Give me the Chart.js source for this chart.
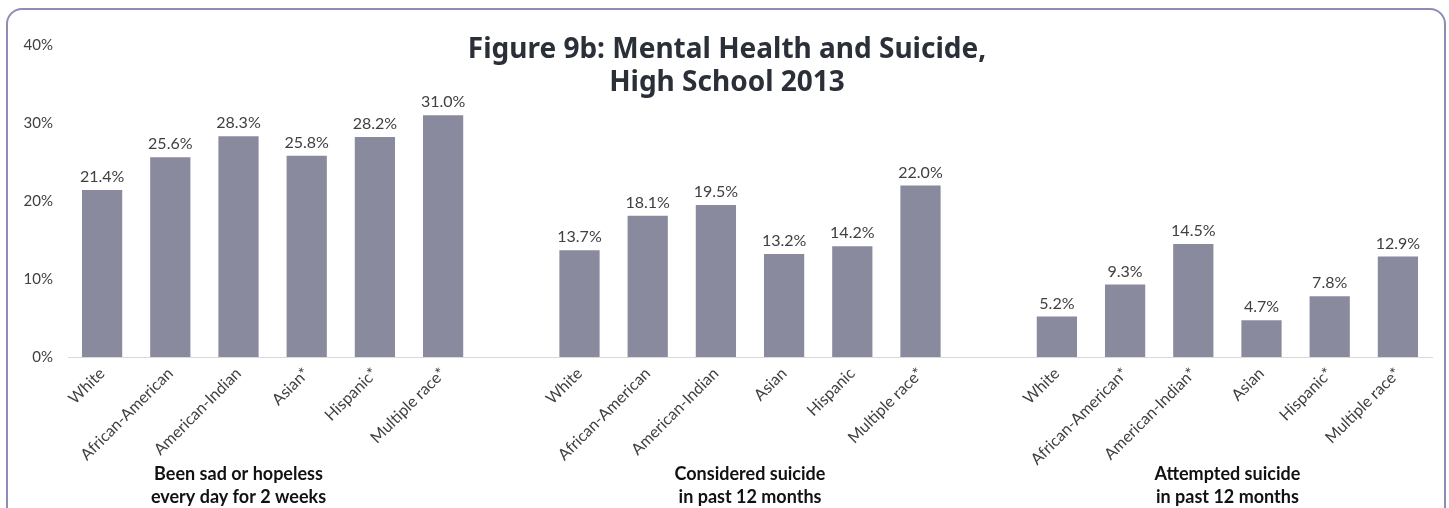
<!DOCTYPE html>
<html>
<head>
<meta charset="utf-8">
<script src="https://cdn.jsdelivr.net/npm/chart.js@4"></script>
<style>
  html, body { margin: 0; padding: 0; background: #fff; overflow: hidden; }
  #wrap { position: relative; width: 1449px; height: 508px; overflow: hidden; }
  #frame {
    position: absolute; left: 6px; top: 8px; width: 1436px; height: 540px;
    border: 2px solid #8c8cb6; border-radius: 16px;
  }
  #chart { position: absolute; left: 0; top: 0; }
</style>
</head>
<body>
<div id="wrap">
  <div id="frame"></div>
  <canvas id="chart" width="1449" height="508"></canvas>
</div>
<script>
// Three question groups, one bar per race/ethnicity
const sadLabels = ["White", "African-American", "American-Indian", "Asian*", "Hispanic*", "Multiple race*"];
const sadValues = [21.4, 25.6, 28.3, 25.8, 28.2, 31.0];

const consideredLabels = ["White", "African-American", "American-Indian", "Asian", "Hispanic", "Multiple race*"];
const consideredValues = [13.7, 18.1, 19.5, 13.2, 14.2, 22.0];

const attemptedLabels = ["White", "African-American*", "American-Indian*", "Asian", "Hispanic*", "Multiple race*"];
const attemptedValues = [5.2, 9.3, 14.5, 4.7, 7.8, 12.9];

const groupTitles = [
    ["Been sad or hopeless", "every day for 2 weeks"],
    ["Considered suicide", "in past 12 months"],
    ["Attempted suicide", "in past 12 months"]
];
// where each group caption sits on the category axis
const groupCaptionAt = [2, 9.5, 16.5];

const yTicks = [0, 10, 20, 30, 40];

const titleLines = ["Figure 9b: Mental Health and Suicide,", "High School 2013"];

// one empty slot between groups
let labels = [...sadLabels, "", ...consideredLabels, "", ...attemptedLabels];
let values = [...sadValues, null, ...consideredValues, null, ...attemptedValues];

const textColor = "#404040";
const smallFont = "Lato, 'Open Sans', sans-serif";

// value labels over the bars, group captions and the figure title
const extras = {
    id: "extras",
    afterDatasetsDraw(chart) {
        let ctx = chart.ctx;
        let meta = chart.getDatasetMeta(0);
        ctx.save();
        ctx.fillStyle = textColor;
        ctx.font = "16px " + smallFont;
        ctx.textAlign = "center";
        ctx.textBaseline = "bottom";
        meta.data.forEach((bar, i) => {
            if (values[i] === null) return;
            ctx.fillText(values[i].toFixed(1) + "%", bar.x, bar.y - 5);
        });

        let xScale = chart.scales.x;
        ctx.fillStyle = "#111";
        ctx.font = "bold 18px " + smallFont;
        ctx.textBaseline = "middle";
        groupTitles.forEach((lines, g) => {
            let x = xScale.getPixelForValue(groupCaptionAt[g]);
            ctx.fillText(lines[0], x, 474);
            ctx.fillText(lines[1], x, 497);
        });

        ctx.fillStyle = "#2b2f38";
        ctx.font = "bold 28px 'Noto Sans', sans-serif";
        ctx.fillText(titleLines[0], 727, 50);
        ctx.fillText(titleLines[1], 727, 83);
        ctx.restore();
    }
};

new Chart(document.getElementById("chart").getContext("2d"), {
    type: "bar",
    data: {
        labels: labels,
        datasets: [{
            data: values,
            backgroundColor: "#8a8a9e",
            borderWidth: 0,
            barPercentage: 0.59,
            categoryPercentage: 1
        }]
    },
    options: {
        responsive: false,
        animation: false,
        layout: { padding: { top: 45, right: 17, left: 0, bottom: 0 } },
        plugins: {
            legend: { display: false },
            tooltip: { enabled: false }
        },
        scales: {
            x: {
                grid: { display: false, drawTicks: false },
                border: { display: true, color: "#d9d9d9", width: 1 },
                ticks: {
                    color: textColor,
                    font: { family: smallFont, size: 16 },
                    minRotation: 45,
                    maxRotation: 45,
                    autoSkip: false,
                    padding: 7
                },
                afterFit: scale => { scale.height = 151; }
            },
            y: {
                min: 0,
                max: 40,
                afterBuildTicks: scale => { scale.ticks = yTicks.map(v => ({ value: v })); },
                grid: { display: false, drawTicks: false },
                border: { display: false },
                ticks: {
                    color: textColor,
                    font: { family: smallFont, size: 15 },
                    padding: 15,
                    callback: v => v + "%"
                },
                afterFit: scale => { scale.width = 68; }
            }
        }
    },
    plugins: [extras]
});
</script>
</body>
</html>
